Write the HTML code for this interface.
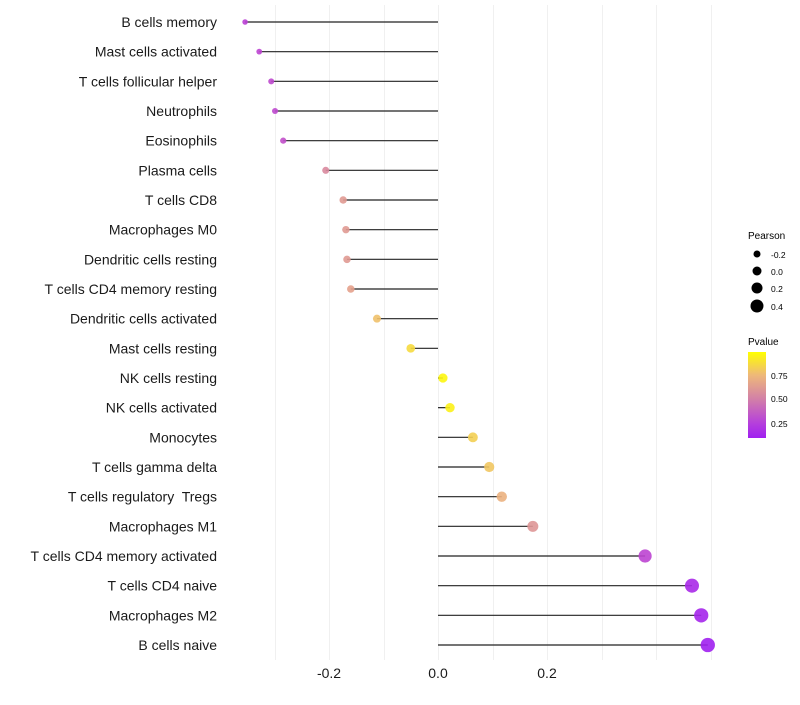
<!DOCTYPE html>
<html><head><meta charset="utf-8"><style>
body{margin:0;background:#fff;font-family:"Liberation Sans",sans-serif}
svg text{font-family:"Liberation Sans",sans-serif;white-space:pre}
</style></head><body>
<svg id="chart" width="800" height="700" xmlns="http://www.w3.org/2000/svg">
<defs><linearGradient id="pg" x1="0" y1="1" x2="0" y2="0">
<stop offset="0" stop-color="#a020f0"/><stop offset="0.17" stop-color="#b53fdc"/><stop offset="0.45" stop-color="#d27fa8"/><stop offset="0.73" stop-color="#eeb87a"/><stop offset="1" stop-color="#ffff00"/></linearGradient></defs>
<g id="grid"></g>
<g id="marks"></g>
<g id="ylabels"></g>
<g id="xlabels"></g>
<g>
<text x="748" y="239" font-size="10">Pearson</text>
<circle cx="757" cy="254" r="3.5" fill="#000"/><text x="771" y="258" font-size="8.5">-0.2</text>
<circle cx="757" cy="271" r="4.5" fill="#000"/><text x="771" y="275" font-size="8.5">0.0</text>
<circle cx="757" cy="288" r="5.5" fill="#000"/><text x="771" y="292" font-size="8.5">0.2</text>
<circle cx="757" cy="306" r="6.5" fill="#000"/><text x="771" y="310" font-size="8.5">0.4</text>
</g>
<g>
<text x="748" y="345" font-size="10">Pvalue</text>
<rect x="748" y="352" width="18" height="86" fill="url(#pg)"/>
<text x="771" y="379" font-size="8.5">0.75</text>
<text x="771" y="402" font-size="8.5">0.50</text>
<text x="771" y="427" font-size="8.5">0.25</text>
</g>
</svg>
<script>
const categories=["B cells memory","Mast cells activated","T cells follicular helper","Neutrophils","Eosinophils","Plasma cells","T cells CD8","Macrophages M0","Dendritic cells resting","T cells CD4 memory resting","Dendritic cells activated","Mast cells resting","NK cells resting","NK cells activated","Monocytes","T cells gamma delta","T cells regulatory  Tregs","Macrophages M1","T cells CD4 memory activated","T cells CD4 naive","Macrophages M2","B cells naive"];
const pearson=[-0.354,-0.328,-0.306,-0.299,-0.284,-0.206,-0.174,-0.169,-0.167,-0.160,-0.112,-0.050,0.009,0.022,0.064,0.094,0.117,0.174,0.380,0.466,0.483,0.495];
const pvalues=[0.26,0.28,0.30,0.30,0.32,0.55,0.62,0.62,0.62,0.65,0.78,0.87,0.97,0.95,0.83,0.80,0.72,0.60,0.28,0.15,0.13,0.10];
const xTicks=[-0.2,0,0.2];
const xTickLabels=["-0.2","0.0","0.2"];
const gridVals=[-0.3,-0.2,-0.1,0,0.1,0.2,0.3,0.4,0.5];
const NS="http://www.w3.org/2000/svg";
const x=v=>438+v*545;
const y=i=>22+i*(623/(categories.length-1));
const r=v=>Math.max(2,4.6+5.2*v);
const stops=[[0.1,[160,32,240]],[0.25,[185,60,215]],[0.5,[212,127,168]],[0.75,[238,184,122]],[1.0,[255,255,0]]];
function col(p){p=Math.max(0.1,Math.min(1,p));for(let k=1;k<stops.length;k++){if(p<=stops[k][0]){const a=stops[k-1],b=stops[k],t=(p-a[0])/(b[0]-a[0]);return "rgb("+a[1].map((c,j)=>Math.round(c+(b[1][j]-c)*t)).join(",")+")";}}return "rgb(255,255,0)";}
function mk(t,at,parent){const e=document.createElementNS(NS,t);for(const k in at)e.setAttribute(k,at[k]);document.getElementById(parent).appendChild(e);return e;}
gridVals.forEach(v=>{const l=mk("line",{x1:Math.round(x(v))+0.5,x2:Math.round(x(v))+0.5,y1:5,y2:660,stroke:"#f0f0f0","stroke-width":1},"grid");

});
categories.forEach((c,i)=>{
const ln=mk("line",{x1:x(0),x2:x(pearson[i]),y1:y(i),y2:y(i),stroke:"#222","stroke-width":1.2},"marks");


const ci=mk("circle",{cx:x(pearson[i]),cy:y(i),r:r(pearson[i]),fill:col(pvalues[i]),"fill-opacity":0.9},"marks");


const t=mk("text",{x:217,y:y(i)+5,"text-anchor":"end","font-size":14,fill:"#1a1a1a"},"ylabels");
t.textContent=c;

});
xTicks.forEach((v,i)=>{const t=mk("text",{x:x(v),y:678,"text-anchor":"middle","font-size":14,fill:"#1a1a1a"},"xlabels");
t.textContent=xTickLabels[i];

});
</script>
</body></html>
